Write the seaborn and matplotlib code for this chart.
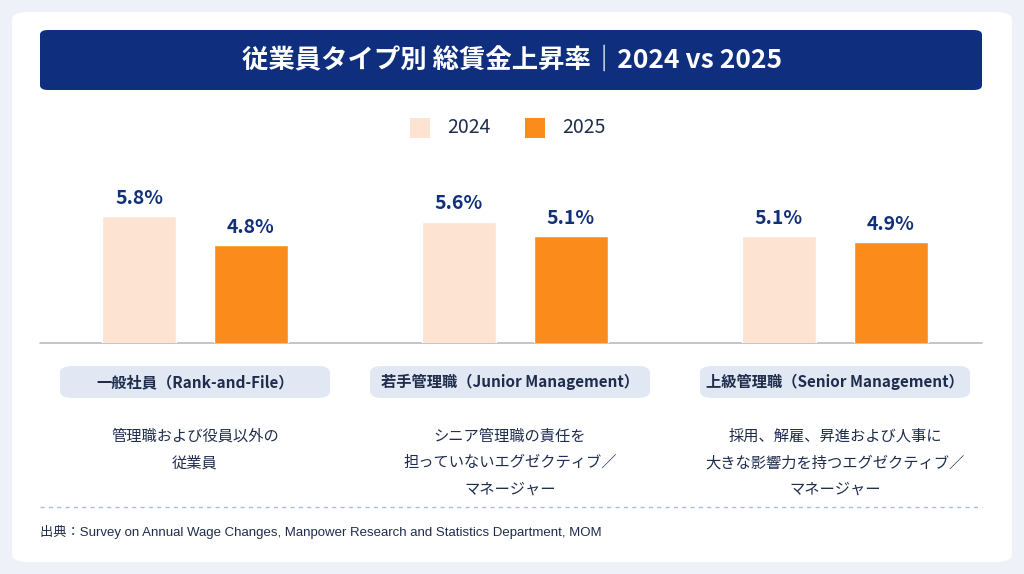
import matplotlib
matplotlib.use("Agg")
import matplotlib.pyplot as plt
import seaborn as sns
import pandas as pd
from matplotlib.patches import FancyBboxPatch

categories = ["一般社員", "若手管理職", "上級管理職"]
years = ["2024", "2025"]
values_2024 = [5.8, 5.6, 5.1]
values_2025 = [4.8, 5.1, 4.9]
pill_labels = ["一般社員（Rank-and-File）", "若手管理職（Junior Management）", "上級管理職（Senior Management）"]
descriptions = ["管理職および役員以外の\n従業員",
                "シニア管理職の責任を\n担っていないエグゼクティブ／\nマネージャー",
                "採用、解雇、昇進および人事に\n大きな影響力を持つエグゼクティブ／\nマネージャー"]
title = "従業員タイプ別 総賃金上昇率｜2024 vs 2025"
source = "出典：Survey on Annual Wage Changes, Manpower Research and Statistics Department, MOM"

df = pd.DataFrame({
    "cat": categories * 2,
    "year": [years[0]] * 3 + [years[1]] * 3,
    "val": values_2024 + values_2025,
})

sns.set_theme(style="white")
plt.rcParams['font.family'] = ['Noto Sans CJK JP', 'DejaVu Sans']

W, H = 1024, 574
fig = plt.figure(figsize=(10.24, 5.74), dpi=100)
fig.patch.set_facecolor("#eef1f7")

def fx(x): return x / W
def fy(y): return 1 - y / H

# white card
fig.patches.append(FancyBboxPatch((fx(12), fy(562)), fx(1000), 550 / H,
                                  boxstyle="round,pad=0,rounding_size=0.015",
                                  transform=fig.transFigure, fc="white", ec="none", zorder=0))
# title banner
fig.patches.append(FancyBboxPatch((fx(40), fy(90)), fx(942), 60 / H,
                                  boxstyle="round,pad=0,rounding_size=0.008",
                                  transform=fig.transFigure, fc="#0f2f7e", ec="none", zorder=1))
fig.text(0.5, fy(60), title, color="white", fontsize=19, fontweight="bold",
         ha="center", va="center")

# legend
c24, c25 = "#fde3d2", "#fb8c1c"
for x0, c, lab in [(410, c24, "2024"), (525, c25, "2025")]:
    fig.patches.append(plt.Rectangle((fx(x0), fy(138)), fx(20), 20 / H,
                                     transform=fig.transFigure, fc=c, ec="none"))
    fig.text(fx(x0 + 37), fy(128), lab, fontsize=14, color="#1f2d4d", va="center")

# bars
ax = fig.add_axes([fx(35), fy(343), fx(960), (343 - 150) / H])
ax.set_zorder(5)
ax.patch.set_alpha(0)
sns.barplot(data=df, x="cat", y="val", hue="year", palette=[c24, c25],
            width=0.7, gap=0.34, legend=False, ax=ax, saturation=1)
ax.set_ylim(1.42, 1.42 + (343 - 150) / 29)
ax.set_xlim(-0.5, 2.5)
ax.axis("off")
for cont in ax.containers:
    ax.bar_label(cont, fmt="%.1f%%", padding=6, fontsize=14, fontweight="bold", color="#12307a")
fig.lines.append(plt.Line2D([fx(40), fx(982)], [fy(343), fy(343)], transform=fig.transFigure,
                            color="#b8bcc4", lw=1.2))

centers = [195, 510, 835]
pill_w = [270, 280, 270]
for cx, pw, lab, desc in zip(centers, pill_w, pill_labels, descriptions):
    fig.patches.append(FancyBboxPatch((fx(cx - pw / 2), fy(398)), fx(pw), 32 / H,
                                      boxstyle="round,pad=0,rounding_size=0.012",
                                      transform=fig.transFigure, fc="#e1e7f3", ec="none"))
    fig.text(fx(cx), fy(382), lab, fontsize=11, fontweight="bold", color="#1f2d4d",
             ha="center", va="center")
    fig.text(fx(cx), fy(428), desc, fontsize=11, color="#1f2d4d", ha="center", va="top",
             linespacing=1.7)

fig.lines.append(plt.Line2D([fx(40), fx(982)], [fy(507), fy(507)], transform=fig.transFigure,
                            color="#a9bde0", lw=1, ls=(0, (3, 3))))
fig.text(fx(40), fy(532), source, fontsize=9.5, color="#1f2d4d", va="center",
         family=['Liberation Sans', 'Noto Sans CJK JP'])

fig.savefig("out.png", dpi=100, facecolor=fig.get_facecolor())
